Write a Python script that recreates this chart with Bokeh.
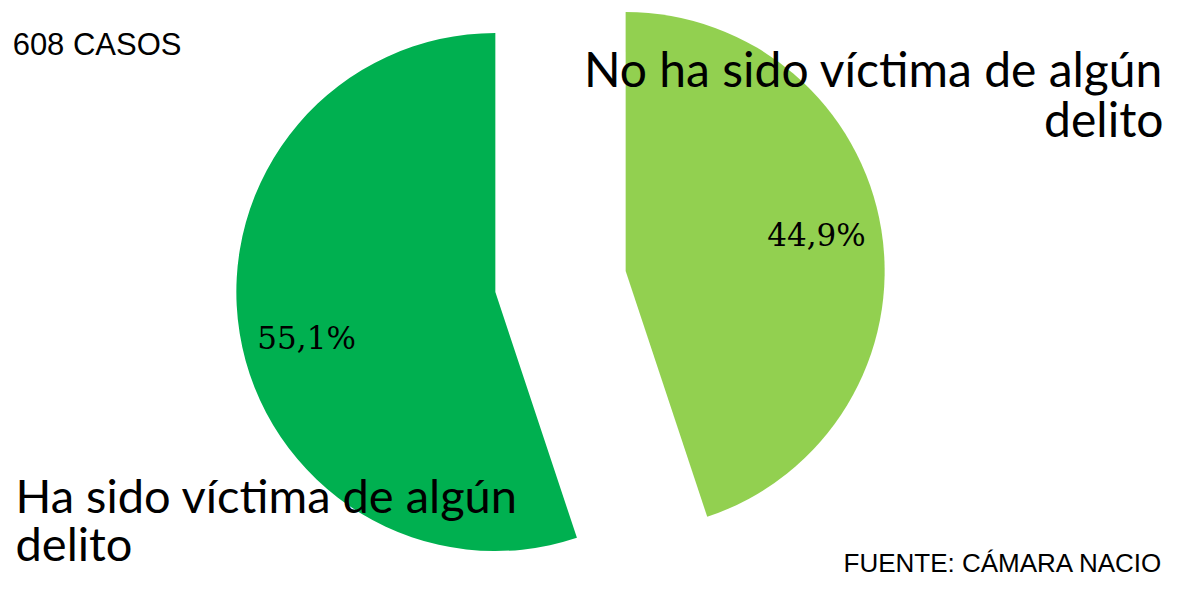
import math
from bokeh.plotting import figure
from bokeh.models import Range1d, ColumnDataSource
from bokeh.core.properties import value
from bokeh.embed import file_html
from bokeh.resources import INLINE

# ---- data ----
categories = ["No ha sido víctima de algún delito", "Ha sido víctima de algún delito"]
category_lines = ["No ha sido víctima de algún\ndelito", "Ha sido víctima de algún\ndelito"]
percentages = [44.9, 55.1]
pct_labels = ["44,9%", "55,1%"]
colors = ["#92D050", "#00B050"]
cases_text = "608 CASOS"
source_text = "FUENTE: CÁMARA NACIO"

# ---- layout (screen pixels, y measured upward from page bottom) ----
W, H = 1165, 576
PAGE_H = 592
cx, cy = 560, PAGE_H - 281
R = 259
EXPLODE = 66
LABEL_R = 0.75
label_angle_shift = [1.6, 4.5]

p = figure(width=W, height=H, x_range=Range1d(0, W), y_range=Range1d(PAGE_H - H, PAGE_H),
           output_backend="svg", toolbar_location=None, min_border=0)
p.axis.visible = False
p.grid.visible = False
p.outline_line_color = None
p.background_fill_color = "white"
p.border_fill_color = "white"

total = sum(percentages)
xs, ys, starts, ends, lx, ly = [], [], [], [], [], []
cum = 0.0
for i, v in enumerate(percentages):
    a0 = 90 - 360 * cum / total
    a1 = 90 - 360 * (cum + v) / total
    mid = math.radians((a0 + a1) / 2)
    x = cx + EXPLODE * math.cos(mid)
    y = cy + EXPLODE * math.sin(mid)
    xs.append(x); ys.append(y)
    starts.append(math.radians(a0)); ends.append(math.radians(a1))
    lm = mid + math.radians(label_angle_shift[i])
    lx.append(x + LABEL_R * R * math.cos(lm))
    ly.append(y + LABEL_R * R * math.sin(lm))
    cum += v

src = ColumnDataSource(dict(x=xs, y=ys, start=starts, end=ends, color=colors,
                            cat=categories, lx=lx, ly=ly, pct=pct_labels))
p.wedge(x="x", y="y", radius=R, start_angle="start", end_angle="end",
        direction="clock", fill_color="color", line_color=None, source=src)

p.text(x="lx", y="ly", text="pct", source=src, text_font=value("DejaVu Serif"),
       text_font_size="31px", text_align="center", text_baseline="middle",
       text_color="black")

# category labels
p.text(x=[1163], y=[PAGE_H - 39], text=[category_lines[0]], text_font=value("Lato"),
       text_font_size="48px", text_align="right", text_baseline="top",
       text_line_height=0.88, text_color="black")
p.text(x=[15], y=[PAGE_H - 466], text=[category_lines[1]], text_font=value("Lato"),
       text_font_size="47px", text_align="left", text_baseline="top",
       text_line_height=0.86, text_color="black")

p.text(x=[181], y=[PAGE_H - 44], text=[cases_text], text_font=value("Liberation Sans"),
       text_font_size="31px", text_align="right", text_baseline="middle",
       text_color="black")
p.text(x=[843], y=[PAGE_H - 562], text=[source_text], text_font=value("Liberation Sans"),
       text_font_size="26px", text_align="left", text_baseline="middle",
       text_color="black")

open("out.html", "w").write(file_html(p, INLINE))
